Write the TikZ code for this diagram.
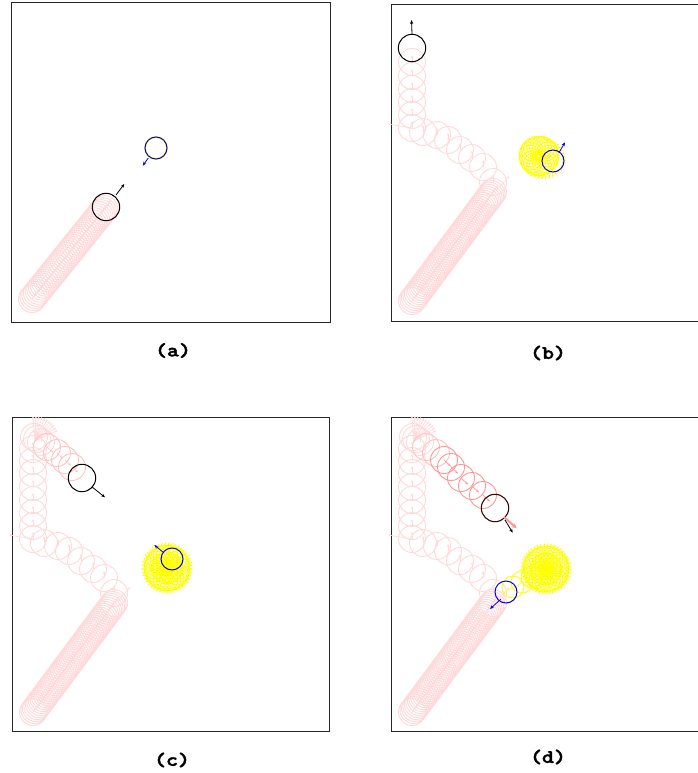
\documentclass[tikz,border=0pt]{standalone}
\usepackage{fontspec}
\newfontfamily\lblfont{lmmonolt10-bold}[Extension=.otf,FakeBold=2]
\usetikzlibrary{arrows.meta}
\definecolor{ghostc}{RGB}{255,218,218}
\definecolor{ghostmid}{RGB}{255,195,195}
\definecolor{ghostdk}{RGB}{255,150,150}
\definecolor{yel}{RGB}{255,255,0}
\definecolor{blu}{RGB}{0,0,230}
\definecolor{darkred}{RGB}{60,5,5}
\newcommand\strailx[3]{%
  \foreach \i in {0,...,#1}{%
    \pgfmathsetmacro\cx{32+(#2-32)*\i/#1}%
    \pgfmathsetmacro\cy{299+(#3-299)*\i/#1}%
    \draw[ghost] (\cx,\cy) circle[radius=13.5pt];
    \draw[ghostarr] (\cx,\cy) -- ++(5,-6.5);
  }}
\newcommand\ydisk[2]{%
  \foreach \a in {0,15,...,345}{%
    \draw[yelc] ({#1+12*cos(\a)},{#2+12*sin(\a)}) circle[radius=11pt];
  }
  \foreach \a in {0,45,...,315}{%
    \draw[yelc] ({#1+5*cos(\a)},{#2+5*sin(\a)}) circle[radius=11pt];
  }
  \foreach \a in {0,8,...,352}{%
    \draw[yel,line width=1pt] ({#1+22*cos(\a)},{#2+22*sin(\a)}) -- ({#1+25.5*cos(\a+3)},{#2+25.5*sin(\a+3)});
  }}
\newcommand\curvetrail{%
  \foreach \x/\y in {113/180,103/165,92/156,80/148,68/138,57/133,43/130,32/126,32/113,32/100,32/87,32/74,32/60}{%
    \draw[ghost] (\x,\y) circle[radius=13.5pt];
    \draw[ghostarr] (\x,\y) -- ++(0,-7);
  }
  \draw[ghostarr] (32,126) -- (8,122);
  \draw[ghostarr] (116.7,188) -- (129.3,174);}
\newcommand\toptrail{%
  \foreach \x/\y in {32/48,32/36,33/24,36/26,40/29}{%
    \draw[ghost] (\x,\y) circle[radius=13.5pt];
    \draw[ghostarr] (\x,\y) -- ++(0,-7);
  }
  \foreach \a in {95,88,...,20}{%
    \draw[ghostarr] (34,28) -- ++({25*cos(\a)},{-25*sin(\a)});
  }}
\begin{document}
\begin{tikzpicture}[x=1pt,y=-1pt,
  frame/.style={draw=black!85,line width=1pt},
  ghost/.style={draw=ghostc,line width=0.9pt},
  ghostarr/.style={ghostc,line width=0.6pt,-{Stealth[length=3pt,width=2.5pt]}},
  ball/.style={draw=black,line width=1pt},
  bluball/.style={draw=blu,line width=1pt},
  yelc/.style={draw=yel,line width=0.9pt},
  velarrow/.style={line width=0.8pt,-{Stealth[length=4pt,width=3.2pt]}},
  lbl/.style={font=\lblfont\fontsize{19}{22}\selectfont,xscale=1.2,transform shape,inner sep=0pt}]
\useasboundingbox (0,0) rectangle (698,773);
\fill[white] (0,0) rectangle (698,773);

% frames
\draw[frame] (11,3) rectangle (330,322);
\draw[frame] (698,5) -- (391,5) -- (391,321) -- (698,321);
\draw[frame] (12,417) rectangle (329,731);
\draw[frame] (698,417) -- (391,417) -- (391,731) -- (698,731);

% ---------- (a)
\begin{scope}
  \strailx{45}{106}{207}
  \draw[ball] (106,207) circle[radius=13.7pt];
  \draw[velarrow,black] (116,195) -- (124.3,184);
  \draw[yel,line width=1.8pt] (156,148) circle[radius=11pt];
  \draw[bluball] (156,148) circle[radius=11pt];
  \draw[velarrow,blu] (148.3,158) -- (142.7,165.7);
\end{scope}

% ---------- (b)
\begin{scope}[shift={(380,2)}]
  \strailx{55}{113}{190}
  \curvetrail
  \foreach \a in {0,20,...,340}{%
    \draw[yelc] ({159+9*cos(\a)},{154+9*sin(\a)}) circle[radius=11pt];
  }
  \foreach \a in {-80,-70,...,140}{%
    \draw[yel,line width=1pt] ({163+19*cos(\a)},{157+17*sin(\a)}) -- ({163+22.5*cos(\a+4)},{157+20.5*sin(\a+4)});
  }
  \draw[bluball] (173,159) circle[radius=11pt];
  \draw[velarrow,blu] (179,150.7) -- (185,140.3);
  \draw[ball] (32,46) circle[radius=13.7pt];
  \draw[velarrow,black] (32,32) -- (31.5,18);
\end{scope}

% ---------- (c)
\begin{scope}[shift={(1,413)}]
  \strailx{55}{113}{190}
  \curvetrail
  \toptrail
  \foreach \x/\y in {46/34,56/40,64/47,71/54}{%
    \draw[draw=ghostmid,line width=0.9pt] (\x,\y) circle[radius=13.5pt];
    \draw[ghostmid,line width=0.6pt,-{Stealth[length=3pt,width=2.5pt]}] (\x,\y) -- ++(6,5.5);
  }
  \draw[ball] (81,65) circle[radius=13.7pt];
  \draw[velarrow,black] (90.7,73.7) -- (104,84.3);
  \ydisk{166}{155}
  \draw[bluball] (171,146) circle[radius=11pt];
  \draw[velarrow,blu] (162.3,139.3) -- (153.3,132);
\end{scope}

% ---------- (d)
\begin{scope}[shift={(380,413)}]
  \strailx{55}{113}{190}
  \curvetrail
  \toptrail
  \foreach \x/\y in {46/34,56/40}{%
    \draw[draw=ghostmid,line width=0.9pt] (\x,\y) circle[radius=13.5pt];
  }
  \foreach \x/\y in {64/47,71/54,81/65,92/73,103/82}{%
    \draw[draw=ghostdk,line width=0.9pt] (\x,\y) circle[radius=13.5pt];
    \draw[ghostdk,line width=0.7pt,-{Stealth[length=3pt,width=2.5pt]}] (\x,\y) -- ++(7,6.5);
  }
  \draw[draw=darkred,line width=1.1pt] (115,95) circle[radius=13.7pt];
  \draw[ghostdk,line width=2pt,-{Stealth[length=5pt,width=5pt]}] (124,104) -- (136.7,115.3);
  \draw[velarrow,black] (125,107) -- (132.7,119.7);
  \ydisk{166}{156}
  \foreach \x/\y in {152/164,142/169,133/174}{%
    \draw[yelc] (\x,\y) circle[radius=11pt];
    \draw[yel,line width=0.6pt] (\x,\y) -- ++(-7,5);
  }
  \draw[bluball] (126,179) circle[radius=11pt];
  \draw[velarrow,blu] (120.7,186.3) -- (110,196);
\end{scope}

% labels
\node[lbl] (la) at (173,350.5) {(a)};
\node[lbl] (lb) at (548,353) {(b)};
\node[lbl] (lc) at (172,760) {(c)};
\node[lbl] (ld) at (548,757) {(d)};
\end{tikzpicture}
\end{document}
